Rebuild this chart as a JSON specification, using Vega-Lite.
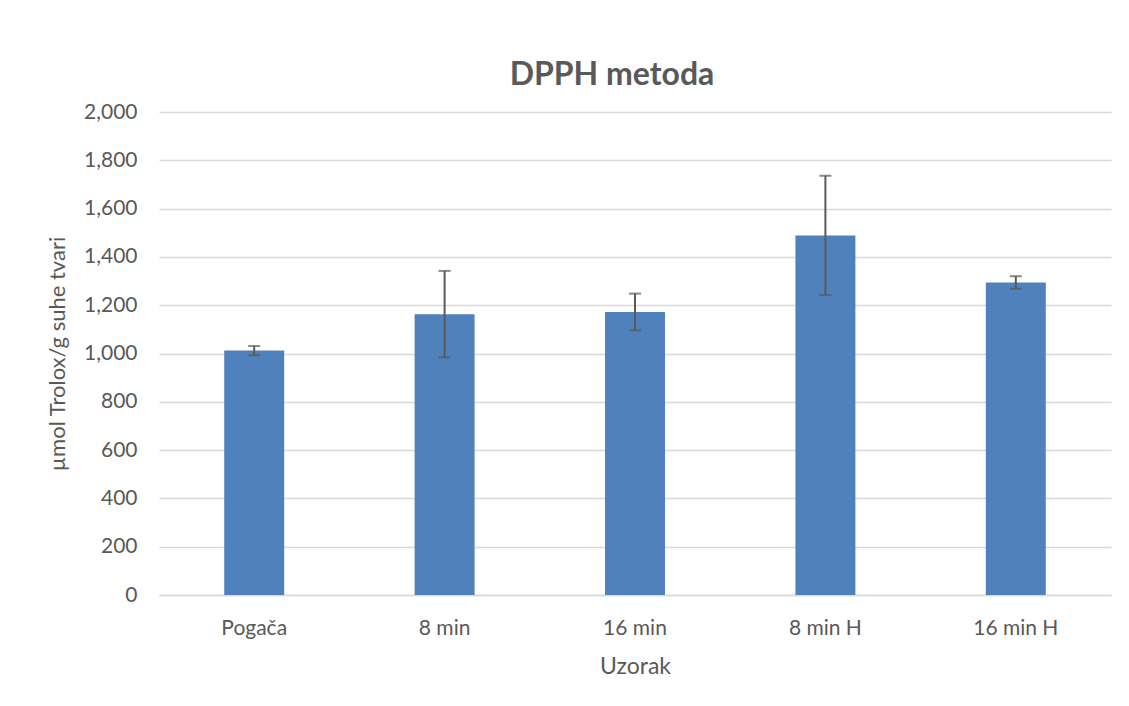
{
  "$schema": "https://vega.github.io/schema/vega-lite/v6.json",
  "autosize": "none",
  "width": 952,
  "height": 483,
  "padding": {"left": 159, "top": 112, "right": 18, "bottom": 111},
  "background": "white",
  "config": {
    "font": "Lato",
    "view": {"stroke": null}
  },
  "title": {
    "text": "DPPH metoda",
    "font": "Lato",
    "fontSize": 32,
    "fontWeight": "bold",
    "color": "#595959",
    "dx": -23,
    "offset": 9
  },
  "data": {
    "values": [
      {"Uzorak": "Pogača", "value": 1012, "err": 19},
      {"Uzorak": "8 min", "value": 1163, "err": 179},
      {"Uzorak": "16 min", "value": 1172, "err": 76},
      {"Uzorak": "8 min H", "value": 1489, "err": 247},
      {"Uzorak": "16 min H", "value": 1294, "err": 26}
    ]
  },
  "encoding": {
    "x": {
      "field": "Uzorak",
      "type": "nominal",
      "sort": null,
      "scale": {"paddingInner": 0.685, "paddingOuter": 0.3425},
      "axis": {
        "title": "Uzorak",
        "titleFont": "Lato",
        "titleFontSize": 23,
        "titleFontWeight": "normal",
        "titleColor": "#595959",
        "titlePadding": 17,
        "labelFont": "Lato",
        "labelFontSize": 21,
        "labelColor": "#595959",
        "labelAngle": 0,
        "labelPadding": 22,
        "ticks": false,
        "domain": true,
        "domainColor": "#D9D9D9",
        "domainWidth": 1.5,
        "grid": false
      }
    }
  },
  "layer": [
    {
      "mark": {"type": "bar", "color": "#4F81BD"},
      "encoding": {
        "y": {
          "field": "value",
          "type": "quantitative",
          "title": "µmol Trolox/g suhe tvari",
          "scale": {"domain": [0, 2000], "nice": false},
          "axis": {
            "titleFont": "Lato",
            "titleFontSize": 22,
            "titleFontWeight": "normal",
            "titleColor": "#595959",
            "titlePadding": 14,
            "labelFont": "Lato",
            "labelFontSize": 21,
            "labelColor": "#595959",
            "labelPadding": 22,
            "format": ",d",
            "values": [0, 200, 400, 600, 800, 1000, 1200, 1400, 1600, 1800, 2000],
            "ticks": false,
            "domain": false,
            "grid": true,
            "gridColor": "#D9D9D9",
            "gridWidth": 1.5
          }
        }
      }
    },
    {
      "mark": {
        "type": "errorbar",
        "color": "#595959",
        "thickness": 2,
        "ticks": {"size": 12, "thickness": 2, "color": "#595959"}
      },
      "encoding": {
        "y": {"field": "value", "type": "quantitative", "title": "µmol Trolox/g suhe tvari"},
        "yError": {"field": "err"}
      }
    }
  ]
}
